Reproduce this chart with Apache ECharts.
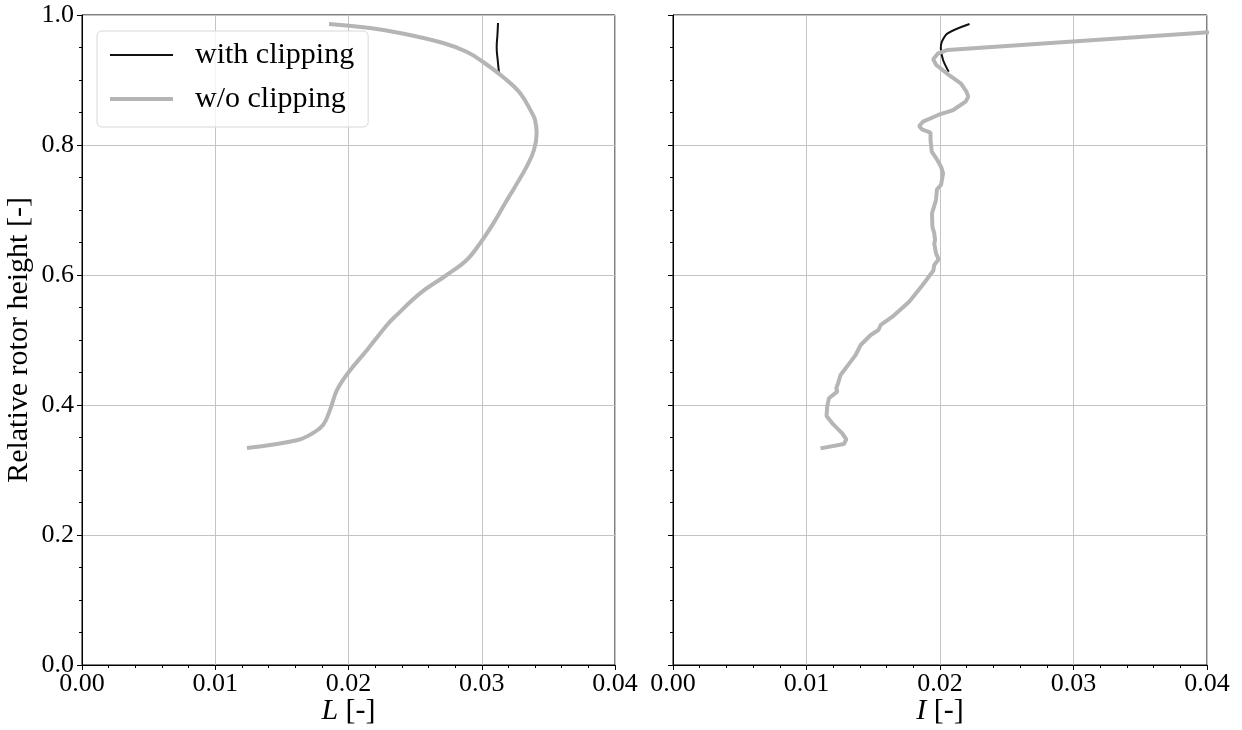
<!DOCTYPE html>
<html>
<head>
<meta charset="utf-8">
<script src="https://cdn.jsdelivr.net/npm/echarts@6/dist/echarts.min.js"></script>
<style>
  html, body { margin: 0; padding: 0; background: #fff; }
  #main { width: 1242px; height: 730px; }
</style>
</head>
<body>
<div id="main"></div>
<script>
const main = document.getElementById('main');
let myChart = echarts.init(main);

const FONT = 'Liberation Serif';

// left panel: L [-]
const lHeightWith = [0.9108, 0.93, 0.9508, 0.97, 0.9877];
const lValueWith = [0.0313, 0.0312, 0.03112, 0.03118, 0.03122];

const lHeightNoClip = [0.3338, 0.3462, 0.3569, 0.3692, 0.3923, 0.4231, 0.4492, 0.4846, 0.5231, 0.5359,
  0.5718, 0.6, 0.6231, 0.6487, 0.6795, 0.7103, 0.7359, 0.7667, 0.7923, 0.8179,
  0.8385, 0.8492, 0.88, 0.9046, 0.9277, 0.9431, 0.9569, 0.9723, 0.98, 0.9862];
const lValueNoClip = [0.01238, 0.01621, 0.01734, 0.01809, 0.01861, 0.01914, 0.01996, 0.02139, 0.02289, 0.02349,
  0.02537, 0.02737, 0.02887, 0.02987, 0.03087, 0.03175, 0.0325, 0.03337, 0.03392, 0.03412,
  0.034, 0.03377, 0.03287, 0.0316, 0.0301, 0.0289, 0.0271, 0.02386, 0.0216, 0.01854];

// right panel: I [-]
const rHeightWith = [0.9128, 0.9308, 0.9487, 0.959, 0.9718, 0.9862];
const rValueWith = [0.02065, 0.02023, 0.02006, 0.02014, 0.02057, 0.02221];

const rHeightNoClip = [0.3333, 0.34, 0.3472, 0.3564, 0.3718, 0.3831, 0.3974, 0.4103, 0.4205, 0.4256,
  0.4344, 0.4462, 0.4667, 0.4769, 0.4923, 0.5077, 0.5154, 0.5231, 0.5359, 0.559,
  0.5846, 0.6067, 0.6154, 0.6241, 0.6333, 0.6487, 0.6538, 0.6641, 0.6744, 0.6949,
  0.7154, 0.7318, 0.7385, 0.7564, 0.7667, 0.7795, 0.7897, 0.8077, 0.819, 0.8241,
  0.8292, 0.8359, 0.8462, 0.8538, 0.8667, 0.8744, 0.8821, 0.8949, 0.9092, 0.9231,
  0.9318, 0.941, 0.9462, 0.986];
const rValueNoClip = [0.01105, 0.0128, 0.01298, 0.01268, 0.01193, 0.0115, 0.01155, 0.01168, 0.0123, 0.01223,
  0.01238, 0.01255, 0.01331, 0.01368, 0.01406, 0.01481, 0.01539, 0.01556, 0.01644, 0.01769,
  0.0187, 0.0195, 0.01957, 0.0199, 0.0197, 0.01957, 0.01963, 0.01957, 0.01943, 0.0194,
  0.0197, 0.01977, 0.02008, 0.02023, 0.02008, 0.01972, 0.01938, 0.01929, 0.01929, 0.01864,
  0.01844, 0.01873, 0.01986, 0.02099, 0.02192, 0.02212, 0.02198, 0.02156, 0.02057, 0.01972,
  0.01949, 0.01986, 0.02057, 0.049];

const xTicks = [0, 0.01, 0.02, 0.03, 0.04];
const yTicks = [0, 0.2, 0.4, 0.6, 0.8, 1.0];

const pairs = (xs, ys) => xs.map((x, i) => [x, ys[i]]);

function xAxisFor(gridIndex, letter) {
  return {
    gridIndex: gridIndex,
    type: 'value',
    min: xTicks[0],
    max: xTicks[xTicks.length - 1],
    interval: 0.01,
    name: '{it|' + letter + '} [-]',
    nameLocation: 'middle',
    nameGap: 31,
    nameMoveOverlap: false,
    nameTextStyle: {
      fontFamily: FONT, fontSize: 30, color: '#000',
      rich: { it: { fontFamily: FONT, fontSize: 30, fontStyle: 'italic', color: '#000' } },
    },
    axisLine: { show: true, onZero: false, lineStyle: { color: '#000', width: 1 } },
    axisTick: { show: true, length: 5, lineStyle: { color: '#000' } },
    minorTick: { show: true, splitNumber: 5, length: 3, lineStyle: { color: '#000' } },
    axisLabel: {
      fontFamily: FONT, fontSize: 26, color: '#000', margin: 6,
      formatter: (v) => v.toFixed(2),
    },
    splitLine: { show: true, lineStyle: { color: '#c4c4c4', width: 1 } },
  };
}

function yAxisFor(gridIndex, showLabels) {
  return {
    gridIndex: gridIndex,
    type: 'value',
    min: yTicks[0],
    max: yTicks[yTicks.length - 1],
    interval: 0.2,
    name: showLabels ? 'Relative rotor height [-]' : '',
    nameLocation: 'middle',
    nameRotate: 90,
    nameGap: 48,
    nameMoveOverlap: false,
    nameTextStyle: { fontFamily: FONT, fontSize: 30, color: '#000' },
    axisLine: { show: true, onZero: false, lineStyle: { color: '#000', width: 1 } },
    axisTick: { show: true, length: 5, lineStyle: { color: '#000' } },
    minorTick: { show: true, splitNumber: 4, length: 3, lineStyle: { color: '#000' } },
    axisLabel: {
      show: showLabels,
      fontFamily: FONT, fontSize: 26, color: '#000', margin: 8,
      formatter: (v) => v.toFixed(1),
    },
    splitLine: { show: true, lineStyle: { color: '#c4c4c4', width: 1 } },
  };
}

function lineSeries(name, idx, data, color, width, smooth) {
  return {
    name: name,
    type: 'line',
    xAxisIndex: idx,
    yAxisIndex: idx,
    data: data,
    showSymbol: false,
    symbol: 'none',
    smooth: smooth,
    clip: true,
    color: color,
    lineStyle: { color: color, width: width },
    emphasis: { disabled: true },
  };
}

const option = {
  animation: false,
  backgroundColor: '#fff',
  grid: [
    { left: 82, right: 627, top: 15, bottom: 65, outerBoundsMode: 'none', show: true, borderColor: '#000', borderWidth: 1, backgroundColor: 'transparent' },
    { left: 673, right: 35, top: 15, bottom: 65, outerBoundsMode: 'none', show: true, borderColor: '#000', borderWidth: 1, backgroundColor: 'transparent' },
  ],
  legend: {
    data: [
      { name: 'with clipping', lineStyle: { width: 2, color: '#111111' } },
      { name: 'w/o clipping', lineStyle: { width: 4, color: '#b5b5b5' } },
    ],
    orient: 'vertical',
    left: 97,
    top: 31,
    itemWidth: 63,
    itemHeight: 14,
    itemGap: 14,
    padding: [9, 14, 13, 11],
    itemStyle: { opacity: 0 },
    backgroundColor: 'rgba(255,255,255,0.8)',
    borderColor: '#d8d8d8',
    borderWidth: 1,
    borderRadius: 5,
    textStyle: { fontFamily: FONT, fontSize: 30, color: '#000', padding: [0, 0, 0, 17] },
  },
  xAxis: [xAxisFor(0, 'L'), xAxisFor(1, 'I')],
  yAxis: [yAxisFor(0, true), yAxisFor(1, false)],
  series: [
    lineSeries('with clipping', 0, pairs(lValueWith, lHeightWith), '#111111', 2, true),
    lineSeries('w/o clipping', 0, pairs(lValueNoClip, lHeightNoClip), '#b5b5b5', 4, 0.4),
    lineSeries('with clipping', 1, pairs(rValueWith, rHeightWith), '#111111', 2, 0.3),
    lineSeries('w/o clipping', 1, pairs(rValueNoClip, rHeightNoClip), '#b5b5b5', 4, false),
  ],
};

myChart.setOption(option);
</script>
</body>
</html>
